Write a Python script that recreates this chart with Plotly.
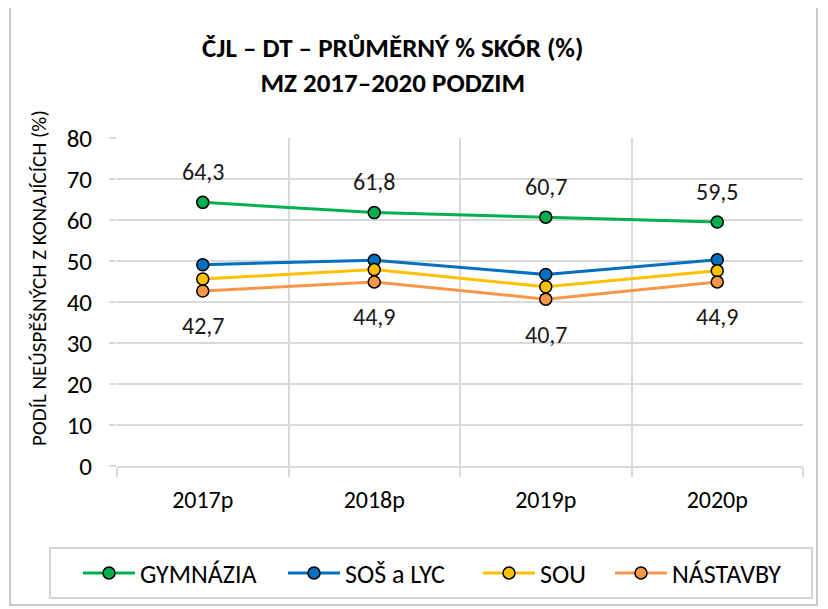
import plotly.graph_objects as go

categories = ["2017p", "2018p", "2019p", "2020p"]
gymnazia = [64.3, 61.8, 60.7, 59.5]
sos_lyc = [49.1, 50.2, 46.7, 50.3]
sou = [45.6, 47.9, 43.7, 47.6]
nastavby = [42.7, 44.9, 40.7, 44.9]
y_ticks = [0, 10, 20, 30, 40, 50, 60, 70, 80]

W, H = 828, 609
OFF = 8  # page body margin
# plot area in screen pixels
L, R, T, B = 117, 803, 138, 466

def px(x):
    return (x - L) / (R - L)

def py(y):
    return (B - y) / (B - T)

FONT = "Calibri, Carlito, Lato, 'Open Sans', sans-serif"

series = [
    ("GYMNÁZIA", gymnazia, "#00B050", "legend", 140),
    ("SOŠ a LYC", sos_lyc, "#0070C0", "legend2", 345),
    ("SOU", sou, "#FFC000", "legend3", 540),
    ("NÁSTAVBY", nastavby, "#F79646", "legend4", 672),
]

fig = go.Figure()
for name, vals, col, lg, _ in series:
    fig.add_trace(go.Scatter(
        x=categories, y=vals, name=name, mode="lines+markers", legend=lg,
        line=dict(color=col, width=3),
        marker=dict(size=12, color=col, line=dict(color="#000000", width=1.5)),
    ))

ann = []
for c, v in zip(categories, gymnazia):
    ann.append(dict(x=c, y=v, text=f"{v:.1f}".replace(".", ","), showarrow=False,
                    yshift=31, font=dict(size=24, color="#1a1a1a", family=FONT)))
for c, v in zip(categories, nastavby):
    ann.append(dict(x=c, y=v, text=f"{v:.1f}".replace(".", ","), showarrow=False,
                    yshift=-35, font=dict(size=24, color="#1a1a1a", family=FONT)))

ann.append(dict(xref="paper", yref="paper", x=px(392), y=py(65), xanchor="center", yanchor="middle",
                text="<b>ČJL – DT – PRŮMĚRNÝ % SKÓR (%)</b><br><b>MZ 2017–2020 PODZIM</b>",
                showarrow=False, font=dict(size=27, color="#000000", family=FONT)))
ann.append(dict(xref="paper", yref="paper", x=px(39), y=py(278), xanchor="center", yanchor="middle",
                text="PODÍL NEÚSPĚŠNÝCH Z KONAJÍCÍCH (%)", textangle=-90, showarrow=False,
                font=dict(size=21, color="#000000", family=FONT)))

shapes = [
    dict(type="rect", xref="paper", yref="paper", x0=px(10), x1=px(817), y0=py(605), y1=py(7),
         line=dict(color="#C8C8C8", width=2), fillcolor="rgba(0,0,0,0)", layer="below"),
    dict(type="rect", xref="paper", yref="paper", x0=px(50), x1=px(812), y0=py(598), y1=py(548),
         line=dict(color="#C8C8C8", width=1.5), fillcolor="rgba(0,0,0,0)", layer="below"),
]

layout_legends = {}
for name, vals, col, lg, text_x in series:
    layout_legends[lg] = dict(
        orientation="h", xref="paper", yref="paper", x=px(text_x - 62), y=py(573),
        xanchor="left", yanchor="middle", font=dict(size=26, family=FONT, color="#000000"),
        borderwidth=0, bgcolor="rgba(0,0,0,0)", itemwidth=52, tracegroupgap=0,
    )

fig.update_layout(
    width=W, height=H,
    margin=dict(l=L - OFF, r=W - (R - OFF), t=T - OFF, b=H - (B - OFF), pad=0),
    paper_bgcolor="white", plot_bgcolor="white",
    font=dict(family=FONT, size=24, color="#000000"),
    showlegend=True,
    annotations=ann,
    shapes=shapes,
    xaxis=dict(type="category", range=[-0.5, 3.5], tickson="boundaries", showgrid=True,
               gridcolor="#D9D9D9", gridwidth=1.5,
               ticks="outside", ticklen=9, tickcolor="#D9D9D9", tickwidth=1.5,
               showline=True, linecolor="#D9D9D9", linewidth=1.5, mirror=False,
               ticklabelstandoff=11,
               tickfont=dict(size=24, family=FONT), zeroline=False),
    yaxis=dict(range=[0, 80], tickvals=y_ticks, showgrid=True, gridcolor="#D9D9D9", gridwidth=1.5,
               ticks="outside", ticklen=7, tickcolor="#D9D9D9", tickwidth=1.5,
               showline=False, zeroline=False, ticklabelstandoff=12,
               tickfont=dict(size=25, family=FONT)),
    **layout_legends,
)

fig.write_html("out.html")
